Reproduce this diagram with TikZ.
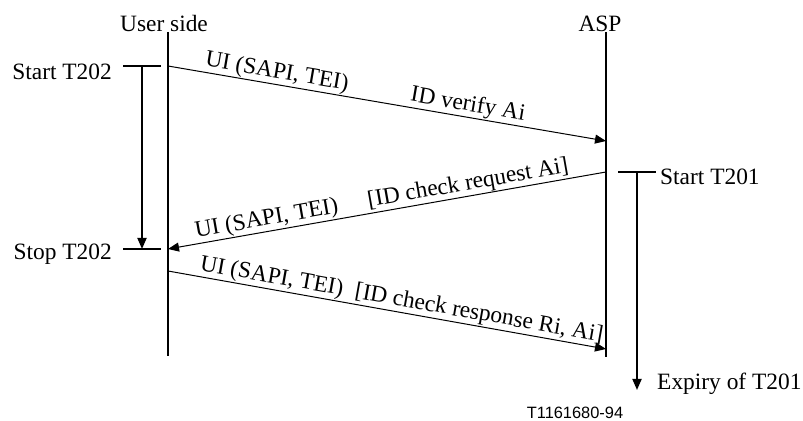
\documentclass[tikz,border=0pt]{standalone}
\usepackage{fontspec}
\setmainfont{Liberation Serif}
\setsansfont{Liberation Sans}
\usetikzlibrary{arrows.meta}
\tikzset{
  lbl/.style={font=\fontsize{11.7}{14}\selectfont,inner sep=0.4pt},
  life/.style={line width=0.9pt},
  msg/.style={line width=0.5pt,-{Triangle[length=5.5pt,width=4.5pt]}},
  tmr/.style={line width=0.9pt,-{Triangle[length=5.5pt,width=4.5pt]}},
}
\begin{document}
\begin{tikzpicture}[x=0.5pt,y=-0.5pt]
\useasboundingbox (0,0) rectangle (803,421);
% lignes de vie
\node[lbl] (user) at (164,24) {User side};
\node[lbl] (asp) at (600,24) {ASP};
\coordinate (u0) at (168,32); \coordinate (u1) at (168,356);
\coordinate (a0) at (606,32); \coordinate (a1) at (606,357);
\draw[life] (u0) -- (u1);
\draw[life] (a0) -- (a1);
% messages
\coordinate (m1s) at (168,66);  \coordinate (m1e) at (606,141);
\coordinate (m2s) at (606,172); \coordinate (m2e) at (168,249);
\coordinate (m3s) at (168,271); \coordinate (m3e) at (606,349);
\draw[msg] (m1s) -- node[lbl,sloped,above,pos=0.244] (l1a) {UI (SAPI, TEI)}
  node[lbl,sloped,above,pos=0.68] (l1b) {ID verify Ai} (m1e);
\draw[msg] (m2s) -- node[lbl,sloped,above,pos=0.31] (l2b) {[ID check request Ai]}
  node[lbl,sloped,above,pos=0.77] (l2a) {UI (SAPI, TEI)} (m2e);
\draw[msg] (m3s) -- node[lbl,sloped,above,pos=0.232] (l3a) {UI (SAPI, TEI)}
  node[lbl,sloped,above,pos=0.705] (l3b) {[ID check response Ri, Ai]} (m3e);
% temporisateur T202
\node[lbl,anchor=east] (st202) at (113,72) {Start T202};
\node[lbl,anchor=east] (sp202) at (113,254) {Stop T202};
\coordinate (t2a) at (123,66);  \coordinate (t2b) at (161,66);
\coordinate (t2c) at (123,249); \coordinate (t2d) at (161,249);
\coordinate (t2s) at (142,66);  \coordinate (t2e) at (142,249);
\draw[life] (t2a) -- (t2b);
\draw[life] (t2c) -- (t2d);
\draw[tmr] (t2s) -- (t2e);
% temporisateur T201
\node[lbl,anchor=west] (st201) at (659,177) {Start T201};
\node[lbl,anchor=west] (ex201) at (656,384) {Expiry of T201};
\coordinate (t1a) at (618,172); \coordinate (t1b) at (656,172);
\coordinate (t1s) at (637,172); \coordinate (t1e) at (637,390);
\draw[life] (t1a) -- (t1b);
\draw[tmr] (t1s) -- (t1e);
% reference
\node[font=\sffamily\fontsize{8.2}{10}\selectfont,inner sep=0pt] (ref) at (575,413) {T1161680-94};
\end{tikzpicture}
\end{document}
